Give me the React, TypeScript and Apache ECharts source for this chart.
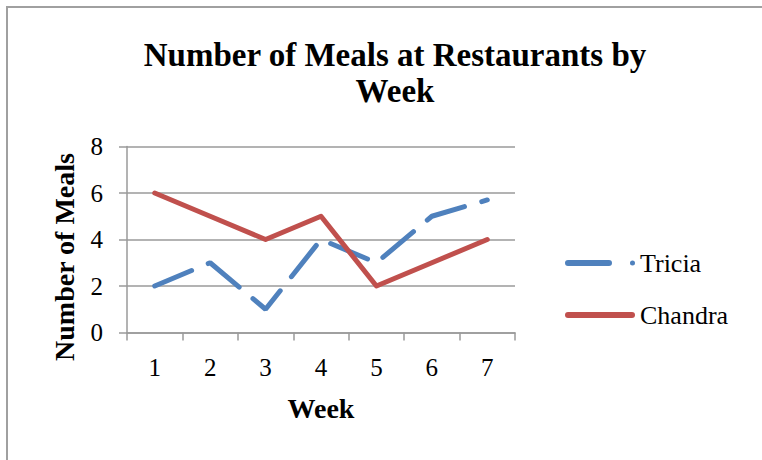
import React, { useEffect, useRef } from "react";
import * as echarts from "echarts";

const weeks = ["1", "2", "3", "4", "5", "6", "7"];
const tricia = [2, 3, 1, 4, 3, 5, 5.7];
const chandra = [6, 5, 4, 5, 2, 3, 4];
const yTicks = [0, 2, 4, 6, 8];

const TITLE = "Number of Meals at Restaurants by\nWeek";
const SERIF = "Liberation Serif";

const triciaIcon =
  "path://M3,0 L44,0 A3,3 0 0 1 44,6 L3,6 A3,3 0 0 1 3,0 Z M67.5,0.5 A2.5,2.5 0 1 1 67.5,5.5 A2.5,2.5 0 1 1 67.5,0.5 Z";
const chandraIcon =
  "path://M3,0 L67,0 A3,3 0 0 1 67,6 L3,6 A3,3 0 0 1 3,0 Z";

export default function App() {
  const ref = useRef<HTMLDivElement>(null);
  useEffect(() => {
    if (!ref.current) return;
    const chart = echarts.init(ref.current, null, { renderer: "svg" });
    const gray = "#9a9a9a";
    chart.setOption({
      animation: false,
      backgroundColor: "#fff",
      title: {
        text: TITLE,
        left: 390,
        top: 32,
        textAlign: "center",
        textStyle: {
          fontFamily: SERIF,
          fontWeight: "bold",
          fontSize: 33,
          lineHeight: 36,
          color: "#000",
        },
      },
      grid: { left: 127, right: 247, top: 146.5, bottom: 127.5, containLabel: false },
      legend: {
        orient: "vertical",
        left: 560,
        top: 243,
        itemWidth: 70,
        itemHeight: 6,
        itemGap: 22,
        itemStyle: { borderWidth: 0 },
        textStyle: { fontFamily: SERIF, fontSize: 26, color: "#000", lineHeight: 30 },
        data: [
          { name: "Tricia", icon: triciaIcon },
          { name: "Chandra", icon: chandraIcon },
        ],
      },
      xAxis: {
        type: "category",
        data: weeks,
        boundaryGap: true,
        name: "Week",
        nameLocation: "middle",
        nameGap: 62,
        nameTextStyle: { fontFamily: SERIF, fontWeight: "bold", fontSize: 28, color: "#000" },
        axisLine: { lineStyle: { color: gray, width: 1.5 } },
        axisTick: { show: true, length: 8, alignWithLabel: false, lineStyle: { color: gray, width: 1.5 } },
        axisLabel: { fontFamily: SERIF, fontSize: 25, color: "#000", margin: 22 },
        splitLine: { show: false },
      },
      yAxis: {
        type: "value",
        min: yTicks[0],
        max: yTicks[yTicks.length - 1],
        interval: 2,
        axisLine: { show: true, lineStyle: { color: gray, width: 1.5 } },
        axisTick: { show: true, length: 8, lineStyle: { color: gray, width: 1.5 } },
        axisLabel: { fontFamily: SERIF, fontSize: 25, color: "#000", margin: 24 },
        splitLine: { show: true, lineStyle: { color: gray, width: 1.5 } },
      },
      graphic: [
        {
          type: "text",
          x: 64,
          y: 257,
          rotation: Math.PI / 2,
          style: {
            text: "Number of Meals",
            fontFamily: SERIF,
            fontWeight: "bold",
            fontSize: 28,
            fill: "#000",
            align: "center",
            verticalAlign: "middle",
          },
        },
        {
          type: "polyline",
          shape: { points: [[7, 470], [7, 7], [762, 7]] },
          style: { stroke: "#a0a0a0", lineWidth: 2, fill: "none" },
        },
      ],
      series: [
        {
          name: "Tricia",
          type: "line",
          data: tricia,
          symbol: "none",
          color: "#4F81BD",
          lineStyle: { width: 5, color: "#4F81BD", type: [40, 18], cap: "round" },
        },
        {
          name: "Chandra",
          type: "line",
          data: chandra,
          symbol: "none",
          color: "#C0504D",
          lineStyle: { width: 5, color: "#C0504D", cap: "round", join: "round" },
        },
      ],
    });
    return () => chart.dispose();
  }, []);
  return <div ref={ref} style={{ width: 762, height: 460, position: "absolute", left: 0, top: 0 }} />;
}
